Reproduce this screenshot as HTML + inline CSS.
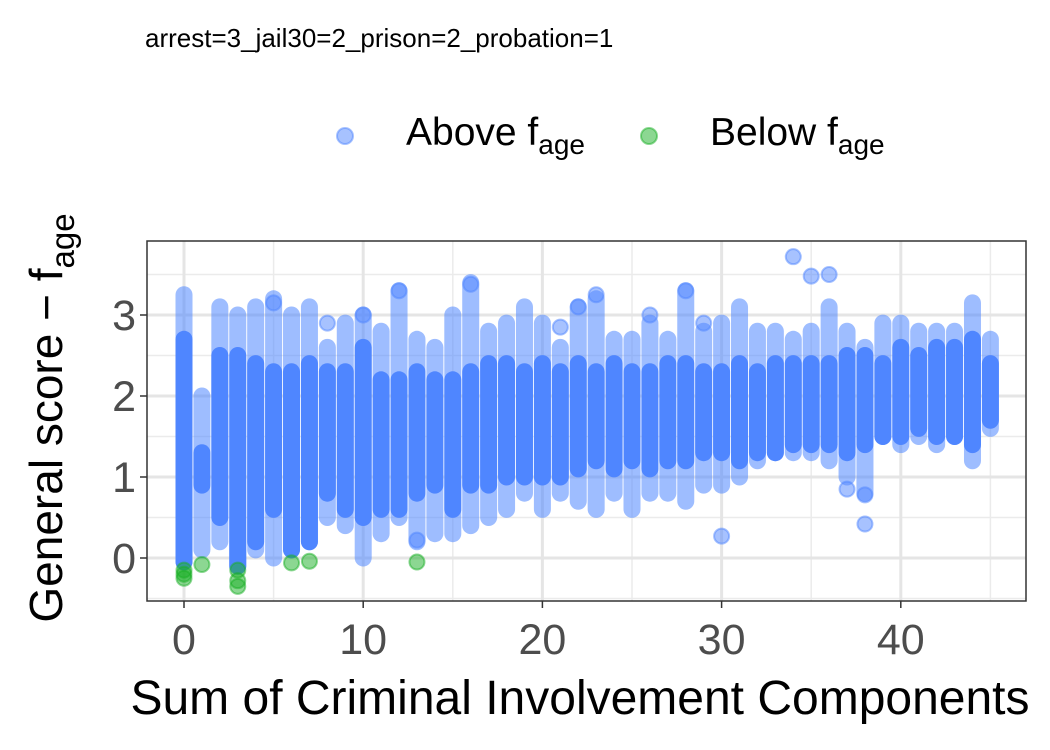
<!DOCTYPE html>
<html><head><meta charset="utf-8"><style>
body{margin:0;background:#fff;}
svg{display:block;font-family:"Liberation Sans",Arial,sans-serif;}
</style></head><body>
<svg id="chart" width="1050" height="750">
<text x="145" y="47" font-size="26" fill="#000">arrest=3_jail30=2_prison=2_probation=1</text>
<g>
 <g>
  <circle cx="345" cy="136" r="8" fill="#4F86FF" fill-opacity="0.5" stroke="#4F86FF" stroke-opacity="0.5" stroke-width="2"/>
  <text x="406" y="145" font-size="39">Above f<tspan font-size="28" dy="9">age</tspan></text>
 </g>
 <g>
  <circle cx="649" cy="136" r="8" fill="#19B025" fill-opacity="0.5" stroke="#19B025" stroke-opacity="0.5" stroke-width="2"/>
  <text x="710" y="145" font-size="39">Below f<tspan font-size="28" dy="9">age</tspan></text>
 </g>
</g>
<g id="grid"></g>
<g id="marks"></g>
<rect x="147" y="241" width="879" height="360" fill="none" stroke="#333" stroke-width="1.5"/>
<g id="axes"></g>
<text x="580" y="714" font-size="48" text-anchor="middle">Sum of Criminal Involvement Components</text>
<text transform="translate(62,418) rotate(-90)" font-size="46" text-anchor="middle">General score −  f<tspan font-size="33" dy="12">age</tspan></text>
</svg>
<script>
const xCats = [0,1,2,3,4,5,6,7,8,9,10,11,12,13,14,15,16,17,18,19,20,21,22,23,24,25,26,27,28,29,30,31,32,33,34,35,36,37,38,39,40,41,42,43,44,45];
const coreLow  = [-0.05,0.9,0.5,-0.1,0.2,0.6,0.1,0.2,0.8,0.6,0.5,0.6,0.6,0.8,0.9,0.6,0.9,0.9,1.0,1.0,1.0,1.0,1.1,1.2,1.1,1.2,1.1,1.2,1.2,1.3,1.3,1.2,1.3,1.3,1.4,1.4,1.4,1.3,1.4,1.5,1.5,1.6,1.5,1.5,1.4,1.7];
const coreHigh = [2.7,1.3,2.5,2.5,2.4,2.3,2.3,2.4,2.3,2.3,2.6,2.2,2.2,2.3,2.2,2.2,2.3,2.4,2.4,2.3,2.4,2.3,2.4,2.3,2.4,2.3,2.3,2.4,2.4,2.3,2.3,2.4,2.3,2.4,2.4,2.4,2.4,2.5,2.5,2.4,2.6,2.5,2.6,2.6,2.7,2.4];
const faintLow = [-0.05,0.1,0.2,-0.1,0.1,0.0,0.1,0.2,0.5,0.4,0.0,0.3,0.5,0.2,0.3,0.3,0.4,0.5,0.6,0.8,0.6,0.8,0.7,0.6,0.8,0.6,0.8,0.8,0.7,0.9,0.9,1.0,1.2,1.3,1.3,1.3,1.2,1.0,0.8,1.5,1.4,1.5,1.4,1.5,1.2,1.6];
const faintHigh= [3.25,2.0,3.1,3.0,3.1,3.2,3.0,3.1,2.6,2.9,3.0,2.8,3.3,2.7,2.6,3.0,3.4,2.8,2.9,3.1,2.9,2.6,3.1,3.2,2.7,2.7,2.9,2.7,3.3,2.8,2.9,3.1,2.8,2.8,2.7,2.8,3.1,2.8,2.6,2.9,2.9,2.8,2.8,2.8,3.15,2.7];
const outX = [5,10,12,16,22,23,28,30,34,35,36,37,38,38,26,29,21,13,8];
const outY = [3.15,3.0,3.3,3.38,3.1,3.25,3.3,0.27,3.72,3.48,3.5,0.85,0.78,0.42,3.0,2.9,2.85,0.22,2.9];
const belowX = [0,0,0,1,3,3,3,7,13,6];
const belowY = [-0.15,-0.2,-0.25,-0.08,-0.15,-0.28,-0.35,-0.04,-0.05,-0.06];
const xTicks = [0,10,20,30,40];
const yTicks = [0,1,2,3];

const NS="http://www.w3.org/2000/svg";
const xs = v => 184 + v*17.92;
const ys = v => 558 - v*81;
function mk(tag, attrs, parent){const e=document.createElementNS(NS,tag);for(const k in attrs)e.setAttribute(k,attrs[k]);parent.appendChild(e);return e;}
const grid=document.getElementById('grid'), marks=document.getElementById('marks'), axes=document.getElementById('axes');
mk('rect',{x:147,y:241,width:879,height:360,fill:'#fff'},grid);
for(let v=-0.5;v<=3.5;v+=1){const l=mk('line',{x1:147,x2:1026,y1:ys(v),y2:ys(v),stroke:'#ebebeb','stroke-width':1.5},grid);}
for(let v=5;v<=45;v+=10){const l=mk('line',{x1:xs(v),x2:xs(v),y1:241,y2:601,stroke:'#ebebeb','stroke-width':1.5},grid);}
yTicks.forEach(v=>{const l=mk('line',{x1:147,x2:1026,y1:ys(v),y2:ys(v),stroke:'#e5e5e5','stroke-width':3},grid);
 const t=mk('line',{x1:140,x2:147,y1:ys(v),y2:ys(v),stroke:'#333','stroke-width':1.5},axes);
 const tx=mk('text',{x:136,y:ys(v)+15,'font-size':43,fill:'#4d4d4d','text-anchor':'end'},axes);tx.textContent=v;});
xTicks.forEach(v=>{const l=mk('line',{x1:xs(v),x2:xs(v),y1:241,y2:601,stroke:'#e5e5e5','stroke-width':3},grid);
 const t=mk('line',{x1:xs(v),x2:xs(v),y1:601,y2:608,stroke:'#333','stroke-width':1.5},axes);
 const tx=mk('text',{x:xs(v),y:654,'font-size':43,fill:'#4d4d4d','text-anchor':'middle'},axes);tx.textContent=v;});
const R=8.5;
xCats.forEach((c,i)=>{
 const f=mk('rect',{x:xs(c)-R,y:ys(faintHigh[i])-R,width:2*R,height:ys(faintLow[i])-ys(faintHigh[i])+2*R,rx:R,fill:'#4F86FF','fill-opacity':0.55},marks);
 
 const k=mk('rect',{x:xs(c)-R,y:ys(coreHigh[i])-R,width:2*R,height:ys(coreLow[i])-ys(coreHigh[i])+2*R,rx:R,fill:'#4F86FF'},marks);
 
});
outX.forEach((c,i)=>{const p=mk('circle',{cx:xs(c),cy:ys(outY[i]),r:R-1,fill:'#4F86FF','fill-opacity':0.5,stroke:'#4F86FF','stroke-opacity':0.5,'stroke-width':2},marks);
 });
belowX.forEach((c,i)=>{const p=mk('circle',{cx:xs(c),cy:ys(belowY[i]),r:R-1,fill:'#19B025','fill-opacity':0.5,stroke:'#19B025','stroke-opacity':0.5,'stroke-width':2},marks);
 });
</script>
</body></html>
